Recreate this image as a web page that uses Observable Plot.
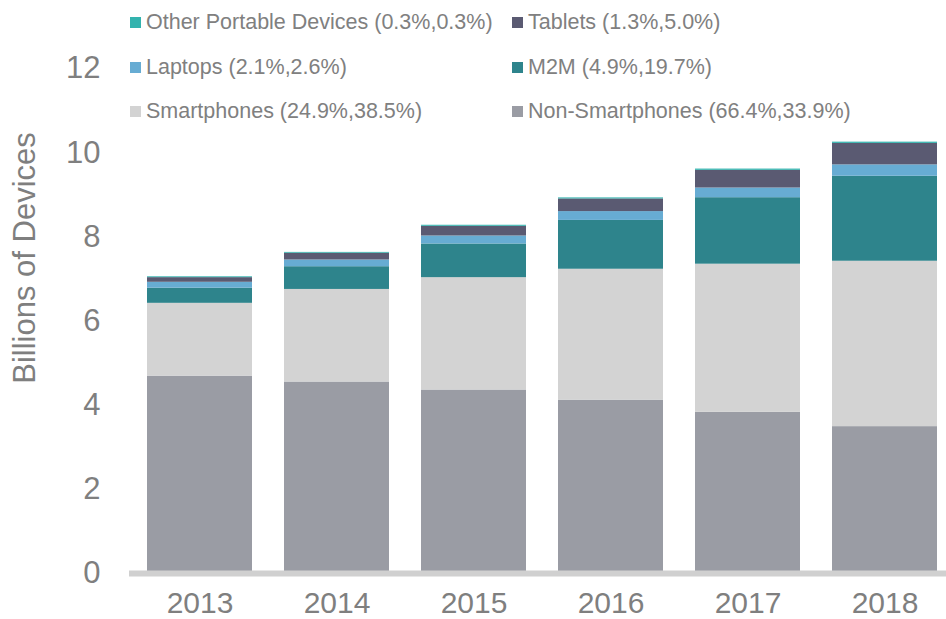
<!DOCTYPE html>
<html>
<head>
<meta charset="utf-8">
<script src="https://cdn.jsdelivr.net/npm/d3@7"></script>
<script src="https://cdn.jsdelivr.net/npm/@observablehq/plot@0.6"></script>
<style>
  html, body { margin: 0; padding: 0; background: #fff; }
  #wrap { position: relative; width: 946px; height: 619px; font-family: "Liberation Sans", Arial, sans-serif; }
  #legend { position: absolute; left: 0; top: 0; width: 946px; height: 130px; pointer-events: none; }
  .item { position: absolute; display: flex; align-items: center; font-size: 21.5px; color: #808080; white-space: nowrap; }
  .sw { width: 11px; height: 11px; margin-right: 5px; }
</style>
</head>
<body>
<div id="wrap"><div id="legend"></div></div>
<script>
const years = ["2013", "2014", "2015", "2016", "2017", "2018"];
const seriesNames = ["Non-Smartphones", "Smartphones", "M2M", "Laptops", "Tablets", "Other Portable Devices"];
const seriesColors = ["#9a9ca4", "#d3d3d3", "#2e848c", "#67acd3", "#5a5a72", "#33b3ae"];
const legendLabels = {
  "Other Portable Devices": "Other Portable Devices (0.3%,0.3%)",
  "Tablets": "Tablets (1.3%,5.0%)",
  "Laptops": "Laptops (2.1%,2.6%)",
  "M2M": "M2M (4.9%,19.7%)",
  "Smartphones": "Smartphones (24.9%,38.5%)",
  "Non-Smartphones": "Non-Smartphones (66.4%,33.9%)"
};
const legendOrder = ["Other Portable Devices", "Tablets", "Laptops", "M2M", "Smartphones", "Non-Smartphones"];

const nonSmartphones = [4.69, 4.55, 4.36, 4.12, 3.83, 3.49];
const smartphones    = [1.73, 2.20, 2.67, 3.11, 3.52, 3.93];
const m2m            = [0.36, 0.54, 0.80, 1.16, 1.58, 2.02];
const laptops        = [0.14, 0.16, 0.19, 0.21, 0.23, 0.27];
const tablets        = [0.11, 0.16, 0.23, 0.30, 0.42, 0.51];
const otherPortable  = [0.02, 0.02, 0.025, 0.025, 0.03, 0.03];
const yTicks = [0, 2, 4, 6, 8, 10, 12];
const yTitle = "Billions of Devices";

const valuesBySeries = {
  "Non-Smartphones": nonSmartphones,
  "Smartphones": smartphones,
  "M2M": m2m,
  "Laptops": laptops,
  "Tablets": tablets,
  "Other Portable Devices": otherPortable
};
const data = [];
for (const s of seriesNames) {
  valuesBySeries[s].forEach((v, i) => data.push({year: years[i], series: s, value: v}));
}

const chart = Plot.plot({
  width: 946,
  height: 619,
  marginTop: 68,
  marginBottom: 46,
  marginLeft: 129,
  marginRight: 0,
  style: {fontFamily: "'Liberation Sans', Arial, sans-serif", color: "#7f7f7f", background: "#fff", overflow: "visible"},
  x: {domain: years, range: [138, 946], paddingInner: 0.23, paddingOuter: 0.05, label: null},
  y: {domain: [0, 12], label: null},
  color: {domain: seriesNames, range: seriesColors},
  marks: [
    Plot.barY(data, {x: "year", y: "value", fill: "series", order: seriesNames}),
    Plot.ruleY([0], {stroke: "#d0d0d0", strokeWidth: 6}),
    Plot.axisY({ticks: yTicks, tickSize: 0, tickPadding: 29, fontSize: 31, fill: "#7f7f7f", label: null}),
    Plot.axisX({tickSize: 0, tickPadding: 18, fontSize: 30, fill: "#7f7f7f", label: null}),
    Plot.text([yTitle], {frameAnchor: "left", text: d => d, rotate: -90, textAnchor: "middle", dx: -104, dy: -63, fontSize: 31, fill: "#7f7f7f"})
  ]
});
document.getElementById("wrap").prepend(chart);
chart.style.display = "block";

const legend = document.getElementById("legend");
const colX = [130, 512];
const rowY = [22, 67, 111];
legendOrder.forEach((s, i) => {
  const col = i % 2, row = Math.floor(i / 2);
  const el = document.createElement("div");
  el.className = "item";
  el.style.left = colX[col] + "px";
  el.style.top = (rowY[row] - 13) + "px";
  el.style.height = "26px";
  const sw = document.createElement("span");
  sw.className = "sw";
  sw.style.background = seriesColors[seriesNames.indexOf(s)];
  const tx = document.createElement("span");
  tx.textContent = legendLabels[s];
  el.append(sw, tx);
  legend.append(el);
});
</script>
</body>
</html>
